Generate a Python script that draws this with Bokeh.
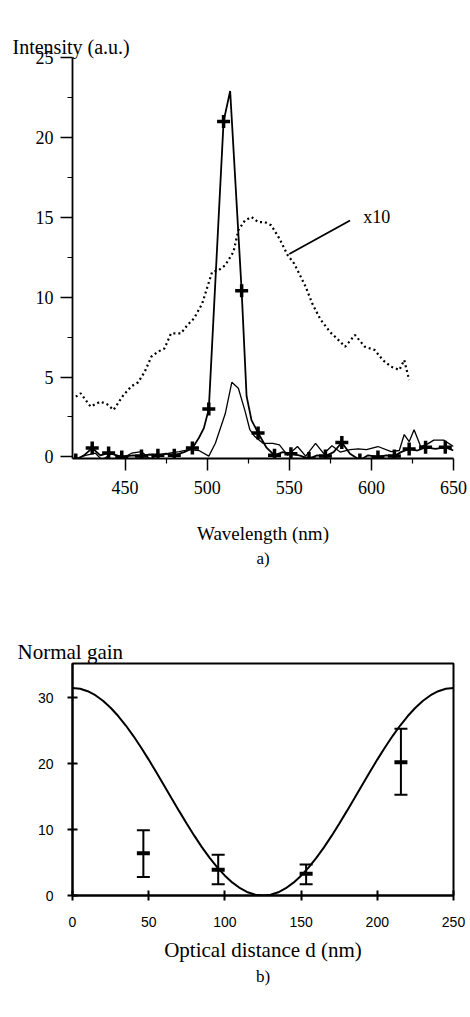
from bokeh.plotting import figure
from bokeh.models import Range1d, FixedTicker, Label, Title
from bokeh.layouts import column
from bokeh.embed import file_html
from bokeh.resources import INLINE

# ---------------- data: panel a ----------------
s1_x = [420, 425, 430, 435, 440, 445, 448, 455, 460, 465, 470, 475, 480, 486, 491, 495, 498, 501,
        510, 514, 521, 524, 527, 531, 536, 541, 546, 551, 556, 562, 567, 572, 577, 582, 587, 593,
        598, 604, 609, 614, 618, 623, 628, 633, 639, 645, 650]
s1_y = [-0.2, 0.1, 0.55, 0.1, 0.25, 0.1, 0.0, 0.1, 0.05, 0.15, 0.1, 0.2, 0.1, 0.3, 0.55, 1.2, 1.8, 3.0,
        21.0, 22.9, 10.4, 3.8, 2.3, 1.5, 0.6, 0.1, 0.3, 0.2, 0.1, -0.1, 0.1, 0.05, 0.3, 0.9, 0.2, -0.2,
        0.1, 0.0, 0.1, 0.05, 0.3, 0.5, 0.4, 0.6, 0.5, 0.6, 0.4]
mk_x = [420, 430, 440, 448, 460, 470, 480, 491, 501, 510, 521, 531, 541, 551, 562, 572, 582, 593,
        604, 614, 623, 633, 645]
mk_y = [-0.2, 0.55, 0.25, 0.0, 0.05, 0.1, 0.1, 0.55, 3.0, 21.0, 10.4, 1.5, 0.1, 0.2, -0.1, 0.05, 0.9,
        -0.2, 0.0, 0.05, 0.5, 0.6, 0.6]
s2_x = [420, 426, 432, 436, 442, 448, 454, 460, 465, 471, 477, 483, 489, 495, 501, 505, 511, 515,
        519, 523, 526, 529, 534, 540, 544, 549, 555, 560, 566, 571, 576, 581, 587, 592, 597, 604,
        612, 617, 620, 623, 626, 630, 634, 638, 644, 650]
s2_y = [-0.1, 0.1, 0.23, -0.2, 0.23, -0.1, 0.23, 0.33, -0.1, 0.1, 0.23, 0.33, 0.45, 0.4, 0.05, 0.85,
        2.7, 4.67, 4.3, 2.9, 1.7, 1.27, 0.85, 0.85, 0.75, 0.1, 0.65, 0.05, 0.85, 0.2, 0.7, 0.3, 0.45,
        0.5, 0.45, 0.65, 0.33, 0.4, 1.4, 0.95, 1.7, 0.65, 0.8, 1.05, 1.05, 0.65]
s3_x = [420, 423, 429, 435, 439, 443, 449, 454, 458, 462, 466, 470, 474, 478, 484, 488, 492, 497,
        503, 507, 511, 516, 519, 523, 527, 531, 535, 539, 544, 549, 553, 557, 560, 564, 569, 575,
        580, 584, 590, 596, 602, 607, 612, 617, 620, 623]
s3_y = [3.77, 3.98, 3.15, 3.46, 3.3, 2.94, 3.87, 4.43, 4.67, 5.33, 6.27, 6.58, 6.79, 7.73, 7.73, 8.25,
        8.67, 9.6, 11.58, 11.69, 12.0, 12.83, 14.19, 14.8, 15.02, 14.7, 14.7, 14.5, 13.67, 12.63, 12.1,
        11.27, 10.65, 9.6, 8.6, 7.8, 7.31, 6.9, 7.63, 6.9, 6.69, 6.06, 5.65, 5.44, 6.06, 4.81]
a_xticks = [450, 500, 550, 600, 650]
a_xminor = [475, 525, 575, 625]
a_yticks = [0, 5, 10, 15, 20, 25]
a_yminor = [2.5, 7.5, 12.5, 17.5, 22.5]
note_line_x = [550, 587]
note_line_y = [12.7, 14.8]
note_text = "x10"
note_pos = (595, 15.0)

# ---------------- data: panel b ----------------
fit_d = [0, 5, 10, 15, 20, 25, 30, 35, 40, 45, 50, 55, 60, 65, 70, 75, 80, 85, 90, 95, 100,
         105, 110, 115, 120, 125, 130, 135, 140, 145, 150, 155, 160, 165, 170, 175, 180, 185,
         190, 195, 200, 205, 210, 215, 220, 225, 230, 235, 240, 245, 250]
fit_g = [31.5, 31.38, 31.0, 30.39, 29.55, 28.49, 27.23, 25.79, 24.19, 22.46, 20.62, 18.70, 16.74,
         14.76, 12.80, 10.88, 9.04, 7.31, 5.71, 4.27, 3.01, 1.95, 1.11, 0.49, 0.12, 0.0, 0.12,
         0.49, 1.11, 1.95, 3.01, 4.27, 5.71, 7.31, 9.04, 10.88, 12.80, 14.76, 16.74, 18.70, 20.62,
         22.46, 24.19, 25.79, 27.23, 28.49, 29.55, 30.39, 31.0, 31.38, 31.5]
pt_d = [46.5, 95.6, 153.3, 215.5]
pt_g = [6.4, 3.9, 3.3, 20.2]
pt_lo = [2.8, 1.7, 1.7, 15.3]
pt_hi = [9.9, 6.2, 4.7, 25.3]
b_xticks = [0, 50, 100, 150, 200, 250]
b_yticks = [0, 10, 20, 30]

SERIF = "Liberation Serif"
SANS = "Liberation Sans"


def spacer(px):
    # an invisible title used only to reserve vertical room in a side panel
    return Title(text=".", text_font_size="1px", standoff=max(px - 3, 0), text_alpha=0)


def caption(text, size, offset, align):
    return Title(text=text, align=align, offset=offset, standoff=0, text_font=SERIF,
                 text_font_size=size, text_font_style="normal", text_color="black")


# ---------------- panel a ----------------
p1 = figure(width=470, height=600, output_backend="svg", toolbar_location=None,
            x_range=Range1d(418, 650), y_range=Range1d(-0.1, 25),
            min_border_left=70, min_border_right=17, min_border_top=57, min_border_bottom=142)
p1.outline_line_color = None
p1.grid.visible = False
xa1 = p1.xaxis[0]
ya1 = p1.yaxis[0]

p1.line(s3_x, s3_y, line_color="black", line_width=2.2, line_dash="2 3")
p1.line(s2_x, s2_y, line_color="black", line_width=1.3)
p1.line(s1_x, s1_y, line_color="black", line_width=1.8)
p1.scatter(mk_x, mk_y, marker="cross", size=13, line_width=3.5, line_color="black")
p1.line(note_line_x, note_line_y, line_color="black", line_width=1.8)
p1.add_layout(Label(x=note_pos[0], y=note_pos[1], text=note_text, text_font=SERIF,
                    text_font_size="18px", text_baseline="middle", text_color="black"))

for ax in (xa1, ya1):
    ax.axis_line_width = 1.8
    ax.axis_line_color = "black"
    ax.major_tick_line_width = 1.5
    ax.minor_tick_line_width = 1.2
    ax.major_tick_in = 0
    ax.major_tick_out = 12
    ax.minor_tick_in = 0
    ax.minor_tick_out = 5
    ax.major_label_text_font = SERIF
    ax.major_label_text_font_size = "18px"
    ax.major_label_text_color = "black"
    ax.axis_label_text_font = SERIF
    ax.axis_label_text_font_size = "19px"
    ax.axis_label_text_font_style = "normal"
    ax.axis_label_text_color = "black"
xa1.ticker = FixedTicker(ticks=a_xticks, minor_ticks=a_xminor)
ya1.ticker = FixedTicker(ticks=a_yticks, minor_ticks=a_yminor)
xa1.major_label_standoff = 10
ya1.major_label_standoff = 7
xa1.axis_label = "Wavelength (nm)"
xa1.axis_label_standoff = 26

p1.add_layout(spacer(19), "above")
p1.add_layout(caption("Intensity (a.u.)", "20px", -60, "left"), "above")
p1.add_layout(spacer(22), "below")
p1.add_layout(caption("a)", "17px", -16, "center"), "below")

# ---------------- panel b ----------------
p2 = figure(width=470, height=417, output_backend="svg", toolbar_location=None,
            x_range=Range1d(0, 250), y_range=Range1d(0, 35.2),
            min_border_left=72, min_border_right=15, min_border_top=63, min_border_bottom=122)
p2.grid.visible = False
p2.outline_line_color = "black"
p2.outline_line_width = 2
xa2 = p2.xaxis[0]
ya2 = p2.yaxis[0]

p2.line(fit_d, fit_g, line_color="black", line_width=2)
p2.segment(pt_d, pt_lo, pt_d, pt_hi, line_color="black", line_width=2)
p2.scatter(pt_d, pt_lo, marker="dash", size=13, line_width=2, line_color="black")
p2.scatter(pt_d, pt_hi, marker="dash", size=13, line_width=2, line_color="black")
p2.scatter(pt_d, pt_g, marker="dash", size=13, line_width=4, line_color="black")

for ax in (xa2, ya2):
    ax.axis_line_width = 2
    ax.axis_line_color = "black"
    ax.major_tick_line_width = 2
    ax.major_tick_in = 5
    ax.major_tick_out = 5
    ax.minor_tick_line_color = None
    ax.major_label_text_font = SANS
    ax.major_label_text_font_size = "14px"
    ax.major_label_text_color = "black"
    ax.axis_label_text_font = SERIF
    ax.axis_label_text_font_size = "21px"
    ax.axis_label_text_font_style = "normal"
    ax.axis_label_text_color = "black"
xa2.ticker = FixedTicker(ticks=b_xticks)
ya2.ticker = FixedTicker(ticks=b_yticks)
xa2.major_label_standoff = 16
ya2.major_label_standoff = 14
xa2.axis_label = "Optical distance d (nm)"
xa2.axis_label_standoff = 8

p2.add_layout(spacer(16), "above")
p2.add_layout(caption("Normal gain", "21px", -55, "left"), "above")
p2.add_layout(spacer(31), "below")
p2.add_layout(caption("b)", "17px", -35, "center"), "below")

layout = column(p1, p2, spacing=0)
open("out.html", "w").write(file_html(layout, INLINE))
